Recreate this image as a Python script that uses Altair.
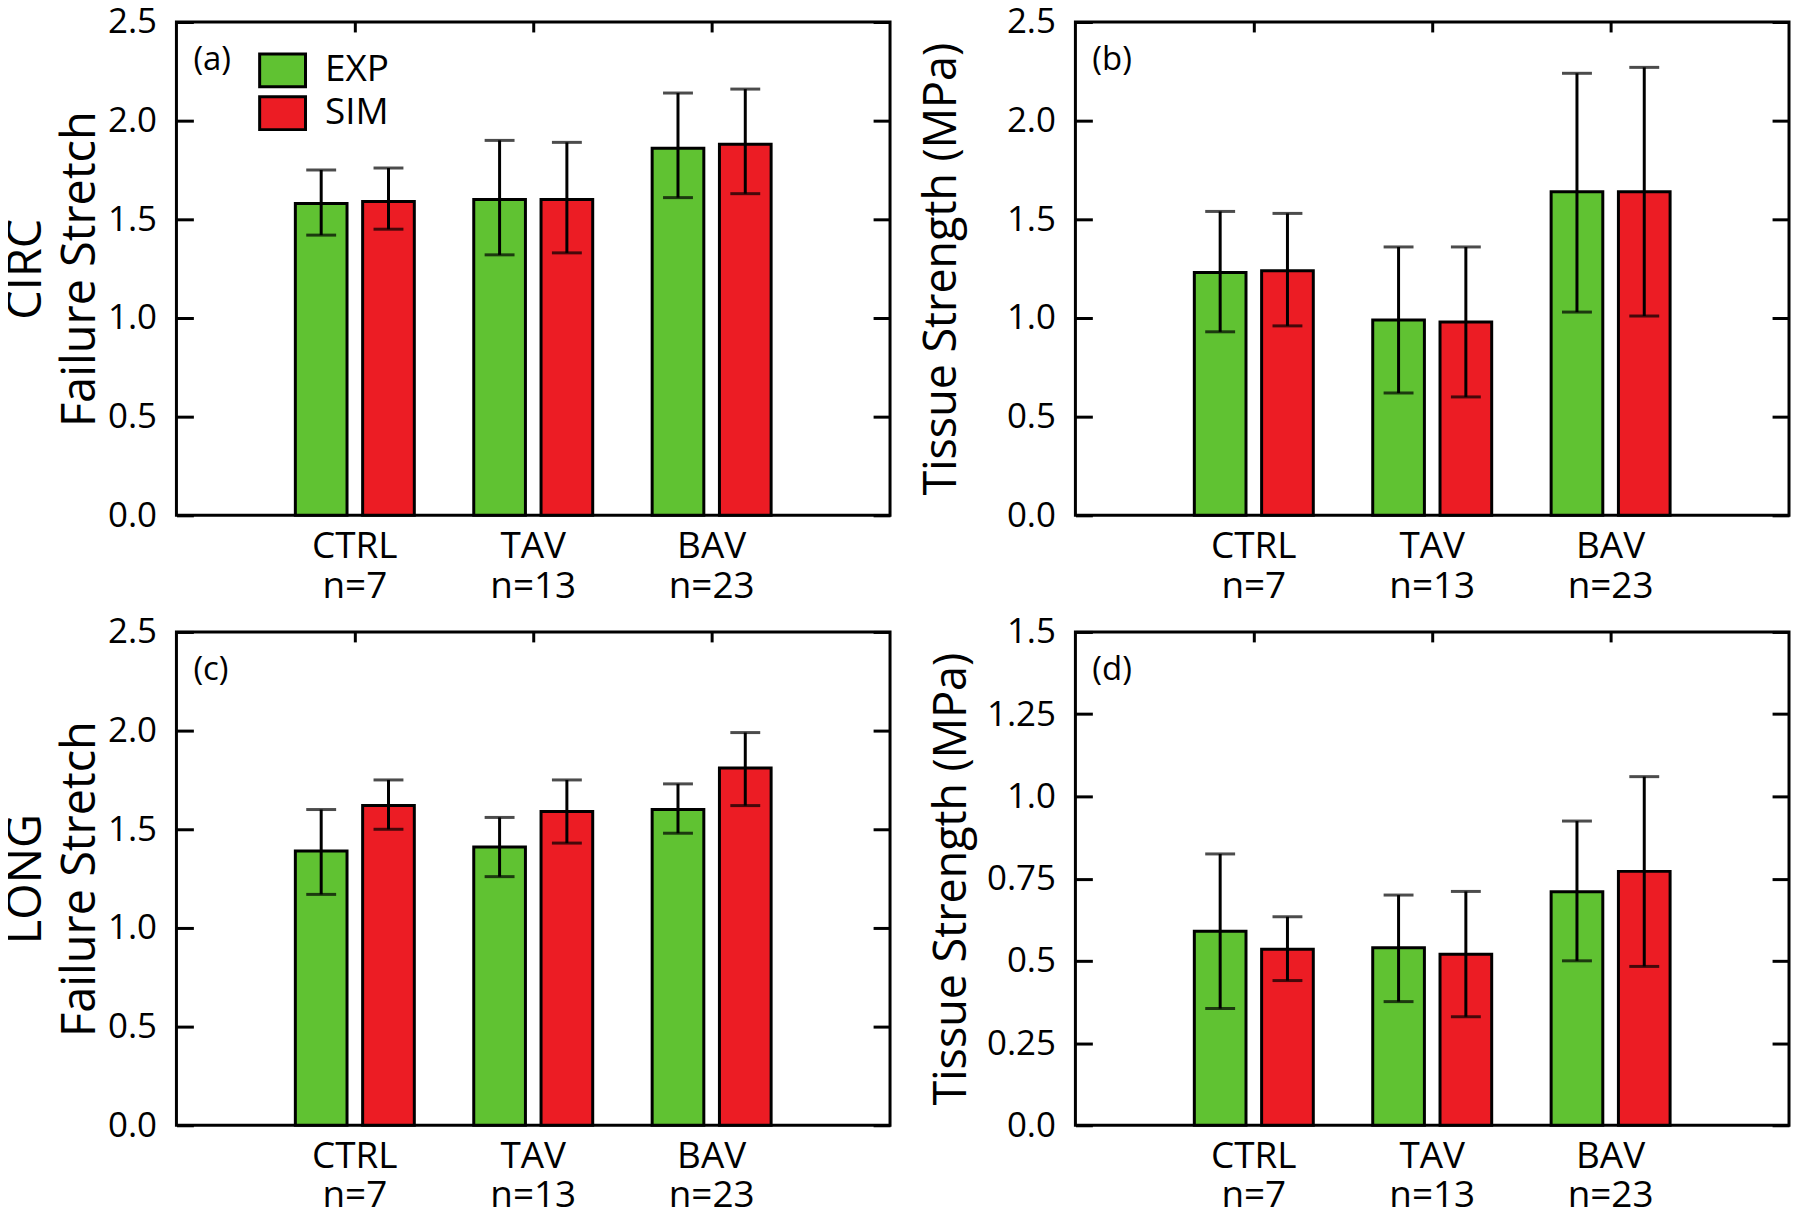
import altair as alt
import pandas as pd

# ---------------- data ----------------
groups = ["CTRL", "TAV", "BAV"]
n_labels = ["n=7", "n=13", "n=23"]
series = ["EXP", "SIM"]
colors = ["#60C232", "#EC1C24"]

# (a) CIRC failure stretch
a_exp_mean = [1.58, 1.60, 1.86]
a_exp_lo = [1.42, 1.32, 1.61]
a_exp_hi = [1.75, 1.90, 2.14]
a_sim_mean = [1.59, 1.60, 1.88]
a_sim_lo = [1.45, 1.33, 1.63]
a_sim_hi = [1.76, 1.89, 2.16]

# (b) CIRC tissue strength (MPa)
b_exp_mean = [1.23, 0.99, 1.64]
b_exp_lo = [0.93, 0.62, 1.03]
b_exp_hi = [1.54, 1.36, 2.24]
b_sim_mean = [1.24, 0.98, 1.64]
b_sim_lo = [0.96, 0.60, 1.01]
b_sim_hi = [1.53, 1.36, 2.27]

# (c) LONG failure stretch
c_exp_mean = [1.39, 1.41, 1.60]
c_exp_lo = [1.17, 1.26, 1.48]
c_exp_hi = [1.60, 1.56, 1.73]
c_sim_mean = [1.62, 1.59, 1.81]
c_sim_lo = [1.50, 1.43, 1.62]
c_sim_hi = [1.75, 1.75, 1.99]

# (d) LONG tissue strength (MPa)
d_exp_mean = [0.59, 0.54, 0.71]
d_exp_lo = [0.355, 0.376, 0.50]
d_exp_hi = [0.825, 0.70, 0.925]
d_sim_mean = [0.535, 0.52, 0.772]
d_sim_lo = [0.44, 0.33, 0.483]
d_sim_hi = [0.634, 0.711, 1.06]

stretch_ticks = [0, 0.5, 1.0, 1.5, 2.0, 2.5]
strength_ticks_d = [0, 0.25, 0.5, 0.75, 1.0, 1.25, 1.5]
panel_letters = ["(a)", "(b)", "(c)", "(d)"]

FONT = "Open Sans, sans-serif"
grp_order = [f"{g}|{n}" for g, n in zip(groups, n_labels)]


def make_df(em, elo, ehi, sm, slo, shi):
    rows = []
    for i, key in enumerate(grp_order):
        rows.append({"grp": key, "series": "EXP", "mean": em[i], "lo": elo[i], "hi": ehi[i]})
        rows.append({"grp": key, "series": "SIM", "mean": sm[i], "lo": slo[i], "hi": shi[i]})
    return pd.DataFrame(rows)


def panel(df, ymax, yvals, ylabelexpr, ytitle, ytitle_size, ytitle_pad, letter, legend):
    xscale = alt.Scale(paddingInner=0, paddingOuter=0.5)
    xo = alt.XOffset("series:N", sort=series,
                     scale=alt.Scale(paddingInner=0.232, paddingOuter=0.4416))
    yscale = alt.Scale(domain=[0, ymax], nice=False, zero=True)

    bars = alt.Chart(df).mark_bar(stroke="black", strokeWidth=3).encode(
        x=alt.X("grp:N", sort=grp_order, scale=xscale,
                axis=alt.Axis(orient="bottom", title=None,
                              labelExpr="split(datum.label, '|')",
                              labelAngle=0, labelAlign="center", labelBaseline="top",
                              labelFontSize=37,
                              ticks=False, tickSize=0, domain=False,
                              labelPadding=13, labelLineHeight=40)),
        xOffset=xo,
        y=alt.Y("mean:Q", scale=yscale,
                axis=alt.Axis(orient="left", values=yvals, labelExpr=ylabelexpr,
                              labelFontSize=35,
                              offset=-17, tickSize=17, tickWidth=3, labelPadding=20,
                              domain=False, grid=False, title=ytitle,
                              titleFontSize=ytitle_size,
                              titlePadding=ytitle_pad, titleLineHeight=54)),
        color=alt.Color("series:N", sort=series,
                        scale=alt.Scale(domain=series, range=colors),
                        legend=legend),
    )
    rules = alt.Chart(df).mark_rule(color="black", strokeWidth=3).encode(
        x=alt.X("grp:N", sort=grp_order,
                axis=alt.Axis(orient="top", labels=False, title=None, domain=False,
                              offset=-10, tickSize=10, tickWidth=3, bandPosition=0.5)),
        xOffset=xo,
        y=alt.Y("lo:Q", axis=alt.Axis(orient="right", labels=False, title=None,
                                      domain=False, values=yvals, offset=-17,
                                      tickSize=17, tickWidth=3, grid=False)),
        y2="hi:Q",
    )
    caps_hi = alt.Chart(df).mark_tick(color="black", thickness=3, size=30).encode(
        x=alt.X("grp:N", sort=grp_order, axis=None),
        xOffset=xo,
        y=alt.Y("hi:Q", axis=None),
    )
    caps_lo = alt.Chart(df).mark_tick(color="black", thickness=3, size=30).encode(
        x=alt.X("grp:N", sort=grp_order, axis=None),
        xOffset=xo,
        y=alt.Y("lo:Q", axis=None),
    )
    tag = alt.Chart(pd.DataFrame({"tag": [letter]})).mark_text(
        font=FONT, fontSize=33, color="black", align="left", baseline="alphabetic"
    ).encode(text="tag:N", x=alt.value(17), y=alt.value(48))
    return alt.layer(bars, rules, caps_hi, caps_lo, tag).properties(width=716, height=495)


fmt1 = "format(datum.value, '.1f')"
fmt_d = ("indexof([0.25, 0.75, 1.25], datum.value) >= 0 ? "
         "format(datum.value, '.2f') : format(datum.value, '.1f')")

legend_a = alt.Legend(
    title=None, orient="none", legendX=88, legendY=30, direction="vertical",
    symbolType="M-1.394,-1L1.394,-1L1.394,1L-1.394,1Z", symbolSize=1089,
    symbolStrokeColor="black", symbolStrokeWidth=3, symbolOpacity=1,
    labelFont=FONT, labelFontSize=37, labelColor="black", labelOffset=24,
    rowPadding=-2, padding=0,
)

pa = panel(make_df(a_exp_mean, a_exp_lo, a_exp_hi, a_sim_mean, a_sim_lo, a_sim_hi),
           2.5, stretch_ticks, fmt1, ["CIRC", "Failure Stretch"], 47, 3,
           panel_letters[0], legend_a)
pb = panel(make_df(b_exp_mean, b_exp_lo, b_exp_hi, b_sim_mean, b_sim_lo, b_sim_hi),
           2.5, stretch_ticks, fmt1, "Tissue Strength (MPa)", 45, 42,
           panel_letters[1], None)
pc = panel(make_df(c_exp_mean, c_exp_lo, c_exp_hi, c_sim_mean, c_sim_lo, c_sim_hi),
           2.5, stretch_ticks, fmt1, ["LONG", "Failure Stretch"], 47, 3,
           panel_letters[2], None)
pd_ = panel(make_df(d_exp_mean, d_exp_lo, d_exp_hi, d_sim_mean, d_sim_lo, d_sim_hi),
            1.5, strength_ticks_d, fmt_d, "Tissue Strength (MPa)", 45, 12,
            panel_letters[3], None)

chart = alt.concat(pa, pb, pc, pd_, columns=2,
                   spacing={"row": 117, "column": 186}, bounds="flush").resolve_scale(
    color="independent"
).properties(
    padding={"left": -7, "top": -7, "right": 0, "bottom": 0},
    background="white",
).configure_view(
    stroke="black", strokeWidth=3
).configure_axis(
    labelFont=FONT, labelColor="black",
    titleFont=FONT, titleFontWeight="normal", titleColor="black",
    tickColor="black",
)

chart.save("out.html", embed_options={"renderer": "svg", "actions": False})
